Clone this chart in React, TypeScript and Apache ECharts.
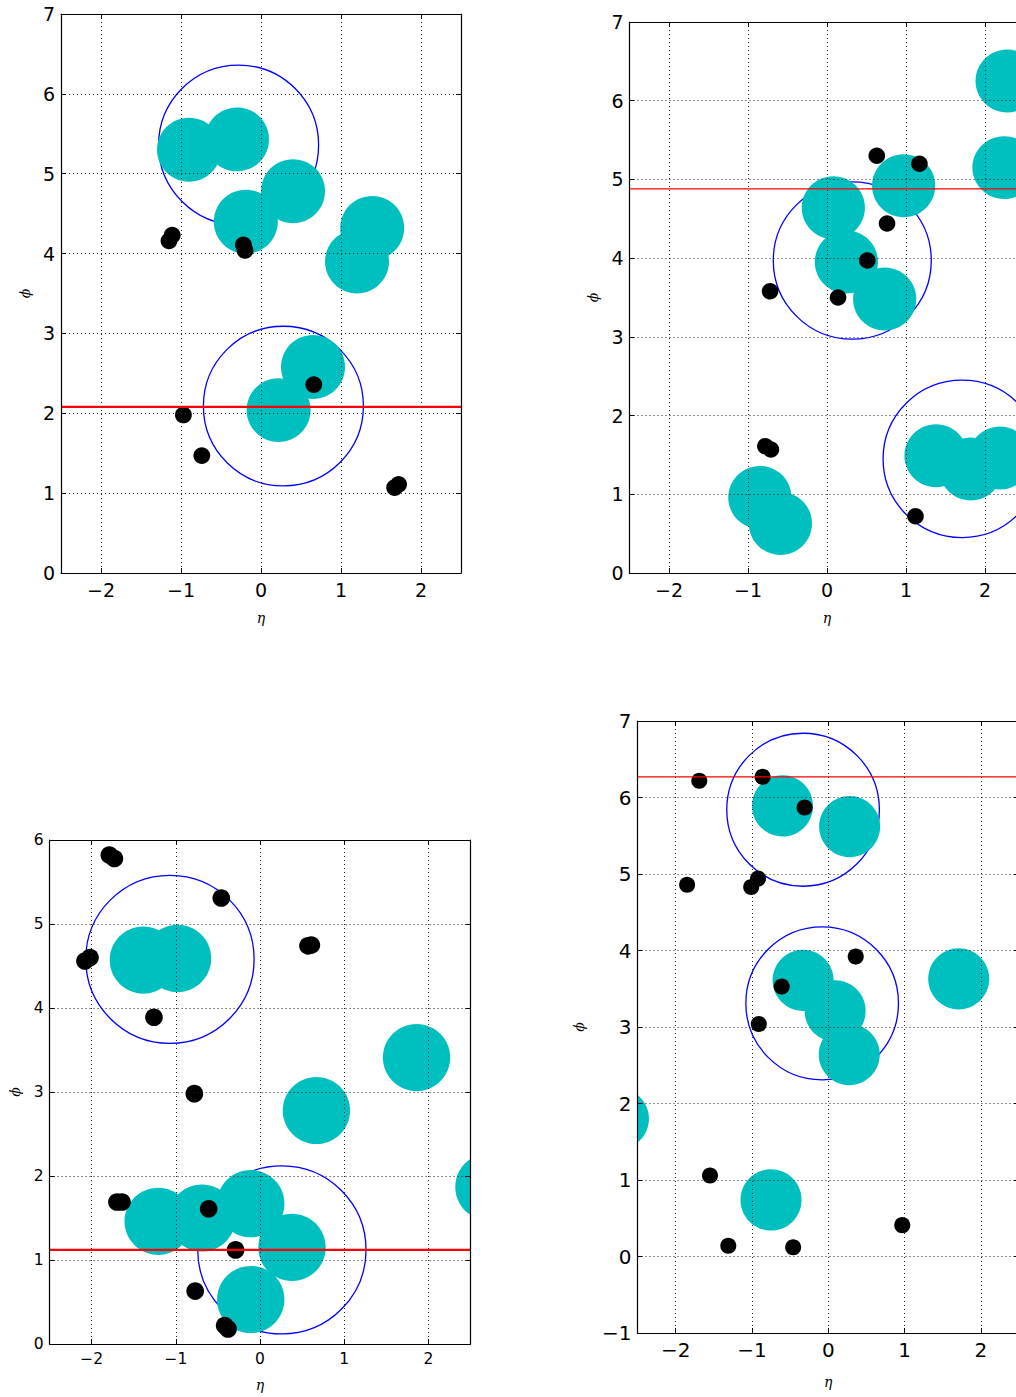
import React, { useEffect, useRef } from "react";
import * as echarts from "echarts";

// ---- axis ranges and labels ----
const X_RANGE = [-2.5, 2.5];
const Y_RANGES = [
  [0, 7],
  [0, 7],
  [0, 6],
  [-1, 7],
];
const X_NAME = "η";
const Y_NAME = "ϕ";

// ---- panel 1 (top-left) ----
const CYAN_1 = [
  [-0.9, 5.3], [-0.3, 5.43], [0.4, 4.78], [-0.19, 4.4],
  [1.39, 4.32], [1.2, 3.9], [0.65, 2.58], [0.22, 2.04],
];
const BLUE_1 = [[-0.28, 5.36], [0.28, 2.09]];
const DOTS_1 = [
  [-1.11, 4.23], [-1.15, 4.16], [-0.22, 4.11], [-0.2, 4.04], [0.66, 2.36],
  [-0.97, 1.98], [-0.74, 1.47], [1.67, 1.07], [1.72, 1.11],
];

// ---- panel 2 (top-right) ----
const CYAN_2 = [
  [2.28, 6.25], [2.24, 5.15], [0.08, 4.64], [0.97, 4.92], [0.245, 3.95],
  [0.73, 3.48], [-0.85, 0.96], [-0.59, 0.63], [1.38, 1.49], [1.82, 1.32], [2.19, 1.46],
];
const BLUE_2 = [[0.32, 3.97], [1.71, 1.45]];
const DOTS_2 = [
  [0.63, 5.3], [1.17, 5.2], [0.76, 4.44], [0.51, 3.97], [-0.72, 3.58],
  [0.14, 3.5], [-0.78, 1.61], [-0.71, 1.57], [1.12, 0.72],
];

// ---- panel 3 (bottom-left) ----
const CYAN_3 = [
  [-1.386, 4.57], [-0.98, 4.59], [1.86, 3.41], [0.67, 2.78], [2.72, 1.87],
  [-1.21, 1.46], [-0.69, 1.5], [-0.11, 1.67], [0.38, 1.15], [-0.11, 0.53],
];
const BLUE_3 = [[-1.07, 4.58], [0.26, 1.12]];
const DOTS_3 = [
  [-1.79, 5.82], [-1.73, 5.78], [-0.46, 5.31], [0.57, 4.74], [0.61, 4.75],
  [-2.08, 4.56], [-2.02, 4.6], [-1.26, 3.89], [-0.78, 2.98], [-1.7, 1.69],
  [-1.64, 1.69], [-0.61, 1.61], [-0.29, 1.12], [-0.77, 0.63], [-0.42, 0.22], [-0.38, 0.18],
];

// ---- panel 4 (bottom-right) ----
const CYAN_4 = [
  [-0.6, 5.89], [0.28, 5.62], [-0.33, 3.61], [0.09, 3.21], [0.275, 2.64],
  [1.71, 3.63], [-0.75, 0.74], [-2.75, 1.8],
];
const BLUE_4 = [[-0.33, 5.84], [-0.08, 3.31]];
const DOTS_4 = [
  [-1.69, 6.22], [-0.86, 6.27], [-0.31, 5.87], [-1.85, 4.86], [-1.01, 4.83],
  [-0.92, 4.94], [0.36, 3.92], [-0.61, 3.53], [-0.91, 3.04], [-1.55, 1.06],
  [-1.31, 0.14], [-0.46, 0.12], [0.97, 0.41],
];

// horizontal red reference line (phi value) per panel
const RED_PHI = [2.08, 4.88, 1.12, 6.27];

// radii in data units
const CYAN_R = 0.4;
const BLUE_R = 1.0;
const DOT_R = 0.105;

const CYANS = [CYAN_1, CYAN_2, CYAN_3, CYAN_4];
const BLUES = [BLUE_1, BLUE_2, BLUE_3, BLUE_4];
const DOTS = [DOTS_1, DOTS_2, DOTS_3, DOTS_4];

// ---- layout / style (not data) ----
const PANELS = [
  { left: 61, top: 14, width: 400, height: 559, font: 19, etaGap: 38, phiGap: 29, red: 2.4 },
  { left: 629.5, top: 22, width: 395, height: 551, font: 19, etaGap: 38, phiGap: 30, red: 1.4 },
  { left: 49.6, top: 840, width: 420.8, height: 504, font: 15.5, etaGap: 34, phiGap: 28, red: 2.4 },
  { left: 637.5, top: 721, width: 381.5, height: 612, font: 20, etaGap: 42, phiGap: 52, red: 1.2 },
];

const fmt = (v: number) =>
  Math.abs(v - Math.round(v)) < 1e-9 ? String(Math.round(v)).replace("-", "\u2212") : "";

const circleItem = (rad: number, style: any) => (params: any, api: any) => {
  const c = api.coord([api.value(0), api.value(1)]);
  const s = api.size([rad, rad]);
  return {
    type: "ellipse",
    shape: { cx: c[0], cy: c[1], rx: s[0], ry: s[1] },
    style,
  };
};

function buildOption() {
  const grid: any[] = [];
  const xAxis: any[] = [];
  const yAxis: any[] = [];
  const series: any[] = [];

  PANELS.forEach((p, i) => {
    grid.push({ left: p.left, top: p.top, width: p.width, height: p.height });
    const line = { show: true, onZero: false, lineStyle: { color: "#000", width: 1.2 } };
    const tick = { show: true, inside: true, length: 5, lineStyle: { color: "#000", width: 1 } };
    const split = { show: true, lineStyle: { color: "#222", width: 1, type: [1, 3] } };
    const labelBase = { color: "#000", fontSize: p.font, fontFamily: "DejaVu Sans", formatter: fmt };
    const nameStyle = { fontFamily: "DejaVu Serif", fontStyle: "italic", fontSize: 14, color: "#000" };

    xAxis.push({
      type: "value", gridIndex: i, min: X_RANGE[0], max: X_RANGE[1], splitNumber: 5,
      position: "bottom", z: 10, axisLine: line, axisTick: tick, splitLine: split,
      axisLabel: { ...labelBase, margin: 7, showMinLabel: false, showMaxLabel: false },
      name: X_NAME, nameLocation: "middle", nameGap: p.etaGap, nameTextStyle: nameStyle,
    });
    xAxis.push({
      type: "value", gridIndex: i, min: X_RANGE[0], max: X_RANGE[1], splitNumber: 5,
      position: "top", z: 10, axisLine: line, axisTick: tick,
      splitLine: { show: false }, axisLabel: { show: false },
    });
    yAxis.push({
      type: "value", gridIndex: i, min: Y_RANGES[i][0], max: Y_RANGES[i][1], interval: 1,
      position: "left", z: 10, axisLine: line, axisTick: tick, splitLine: split,
      axisLabel: { ...labelBase, margin: 6 },
      name: Y_NAME, nameLocation: "middle", nameGap: p.phiGap, nameRotate: 90, nameTextStyle: nameStyle,
    });
    yAxis.push({
      type: "value", gridIndex: i, min: Y_RANGES[i][0], max: Y_RANGES[i][1], interval: 1,
      position: "right", z: 10, axisLine: line, axisTick: tick,
      splitLine: { show: false }, axisLabel: { show: false },
    });

    const ax = { xAxisIndex: 2 * i, yAxisIndex: 2 * i };
    series.push({
      type: "custom", ...ax, clip: true, silent: true, z: 2, data: BLUES[i],
      renderItem: circleItem(BLUE_R, { fill: "none", stroke: "#0000ff", lineWidth: 1.3 }),
    });
    series.push({
      type: "custom", ...ax, clip: true, silent: true, z: 2, data: CYANS[i],
      renderItem: circleItem(CYAN_R, { fill: "#00bfbf", stroke: "none" }),
    });
    series.push({
      type: "custom", ...ax, clip: true, silent: true, z: 2, data: DOTS[i],
      renderItem: circleItem(DOT_R, { fill: "#000000", stroke: "none" }),
    });
    series.push({
      type: "line", ...ax, silent: true, z: 3, symbol: "none", clip: true,
      data: [[X_RANGE[0], RED_PHI[i]], [X_RANGE[1], RED_PHI[i]]],
      lineStyle: { color: "#ff0000", width: p.red },
    });
  });

  return { animation: false, backgroundColor: "#ffffff", grid, xAxis, yAxis, series };
}

export default function App() {
  const ref = useRef<HTMLDivElement>(null);
  useEffect(() => {
    if (!ref.current) return;
    const chart = echarts.init(ref.current, null, { renderer: "svg" });
    chart.setOption(buildOption() as any);
    return () => chart.dispose();
  }, []);
  return (
    <div
      style={{
        position: "absolute",
        left: 0,
        top: 0,
        width: 1016,
        height: 1397,
        overflow: "hidden",
        background: "#fff",
      }}
    >
      <div ref={ref} style={{ width: 1040, height: 1397 }} />
    </div>
  );
}
